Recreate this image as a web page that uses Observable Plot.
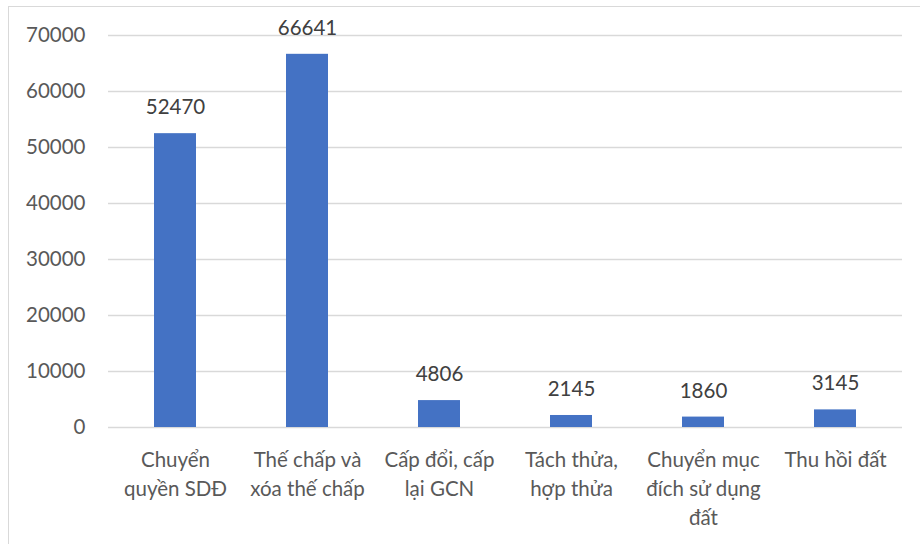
<!DOCTYPE html>
<html>
<head>
<meta charset="utf-8">
<script src="https://cdn.jsdelivr.net/npm/d3@7"></script>
<script src="https://cdn.jsdelivr.net/npm/@observablehq/plot@0.6"></script>
<style>
  html, body { margin: 0; padding: 0; background: #fff; }
  #wrap { position: relative; width: 920px; height: 544px; overflow: hidden; }
  #box { position: absolute; left: 8px; top: 6px; width: 940px; height: 560px;
         border-left: 1.5px solid #d9d9d9; border-top: 1.5px solid #d9d9d9; box-sizing: border-box; }
  #wrap svg { position: absolute; left: 0; top: 0; }
</style>
</head>
<body>
<div id="wrap"><div id="box"></div></div>
<script>
// Hồ sơ đất đai theo loại thủ tục
const categories = [
  "Chuyển\nquyền SDĐ",
  "Thế chấp và\nxóa thế chấp",
  "Cấp đổi, cấp\nlại GCN",
  "Tách thửa,\nhợp thửa",
  "Chuyển mục\nđích sử dụng\nđất",
  "Thu hồi đất"
];
const values = [52470, 66641, 4806, 2145, 1860, 3145];
const yTicks = [0, 10000, 20000, 30000, 40000, 50000, 60000, 70000];

const data = categories.map((c, i) => ({category: c, value: values[i]}));

const font = "Lato, 'Open Sans', sans-serif";
const fs = 20.5;

const chart = Plot.plot({
  width: 920,
  height: 544,
  marginLeft: 108,
  marginRight: 18,
  marginTop: 35,
  marginBottom: 117,
  style: {fontFamily: font, fontSize: fs + "px", background: "transparent"},
  x: {domain: categories, paddingInner: 0.68, paddingOuter: 0.34, label: null},
  y: {domain: [0, 70000], label: null},
  marks: [
    Plot.gridY(yTicks, {stroke: "#d9d9d9", strokeOpacity: 1, strokeWidth: 1.5}),
    Plot.barY(data, {x: "category", y: "value", fill: "#4472C4"}),
    Plot.text(data, {
      x: "category", y: "value", text: d => String(d.value),
      dy: -26, fill: "#404040", fontSize: fs
    }),
    Plot.axisY(yTicks, {
      tickSize: 0, tickPadding: 23, tickFormat: d => String(d),
      fill: "#595959", fontSize: fs, label: null
    }),
    Plot.axisX({
      tickSize: 0, tickPadding: 19, fill: "#595959", fontSize: fs,
      lineHeight: 1.42, label: null
    })
  ]
});
document.getElementById("wrap").appendChild(chart);
</script>
</body>
</html>
